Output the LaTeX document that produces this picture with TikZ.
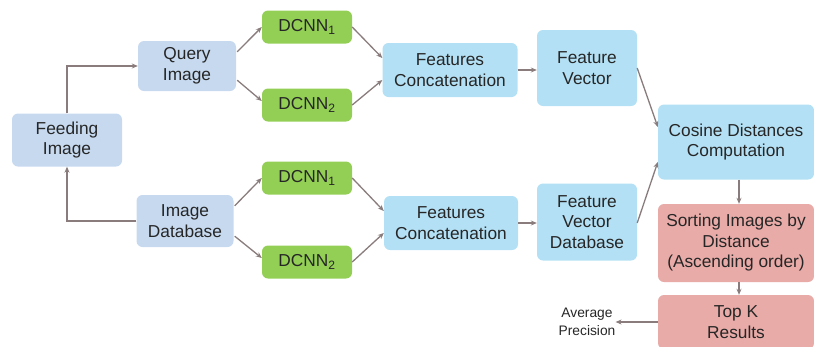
\documentclass[tikz,border=0pt]{standalone}
\usepackage{fontspec}
\setmainfont{Liberation Sans}
\usetikzlibrary{arrows.meta,calc}
\definecolor{lblue}{HTML}{C6D9EF}
\definecolor{fblue}{HTML}{B3E0F4}
\definecolor{lgreen}{HTML}{93CF55}
\definecolor{lpink}{HTML}{E8ABA8}
\definecolor{arr}{HTML}{8A7C7C}
\definecolor{txt}{HTML}{262626}
\begin{document}
\begin{tikzpicture}[x=1pt,y=-1pt,
  box/.style={rounded corners=6pt,align=center,text=txt,inner sep=0pt,
    font=\fontsize{17.3}{20.5}\selectfont},
  qbox/.style={box,fill=lblue},
  gbox/.style={box,fill=lgreen,minimum width=90pt,minimum height=33pt},
  fbox/.style={box,fill=fblue},
  pbox/.style={box,fill=lpink},
  link/.style={draw=arr,line width=1.3pt,-{Stealth[length=6pt,width=5pt]}}]
\useasboundingbox (0,0) rectangle (814,346);
\node[qbox,minimum width=110pt,minimum height=53pt] (feed) at (67,140) {Feeding\\Image};
\node[qbox,minimum width=98pt,minimum height=50pt] (query) at (187,66) {Query\\Image};
\node[qbox,minimum width=97pt,minimum height=52pt] (imgdb) at (185,221) {Image\\Database};
\node[gbox] (d1a) at (307,27) {DCNN\textsubscript{1}};
\node[gbox] (d2a) at (307,105) {DCNN\textsubscript{2}};
\node[gbox] (d1b) at (307,178) {DCNN\textsubscript{1}};
\node[gbox] (d2b) at (307,262) {DCNN\textsubscript{2}};
\node[fbox,minimum width=135pt,minimum height=54pt] (fca) at (450,70) {Features\\Concatenation};
\node[fbox,minimum width=134pt,minimum height=54pt] (fcb) at (451,223) {Features\\Concatenation};
\node[fbox,minimum width=100pt,minimum height=76pt] (fv) at (587,68) {Feature\\Vector};
\node[fbox,minimum width=100pt,minimum height=77pt] (fvd) at (587,222) {Feature\\Vector\\Database};
\node[fbox,minimum width=156pt,minimum height=75pt] (cos) at (736,142) {Cosine Distances\\Computation};
\node[pbox,minimum width=156pt,minimum height=78pt] (sort) at (736,243) {Sorting Images by\\Distance\\(Ascending order)};
\node[pbox,minimum width=156pt,minimum height=54pt] (topk) at (736,322) {Top K\\Results};
\node[align=center,text=txt,inner sep=0pt,font=\fontsize{13.8}{17.5}\selectfont] (ap) at (587,322) {Average\\Precision};
\path[link] (feed.north) |- (query.west);
\path[link] (imgdb.west) -| (feed.south);
\path[link] ($(query.north east)+(1,11)$) -- (d1a.west);
\path[link] ($(query.south east)+(1,-11)$) -- ($(d2a.west)+(0,-4)$);
\path[link] ($(imgdb.north east)+(1,11)$) -- (d1b.west);
\path[link] ($(imgdb.south east)+(1,-11)$) -- ($(d2b.west)+(0,-4)$);
\path[link] (d1a.east) -- ($(fca.west)+(0,-12)$);
\path[link] (d2a.east) -- ($(fca.west)+(0,10)$);
\path[link] (d1b.east) -- ($(fcb.west)+(0,-12)$);
\path[link] (d2b.east) -- ($(fcb.west)+(0,10)$);
\path[link] (fca.east) -- (fv.west |- fca.east);
\path[link] (fcb.east) -- (fvd.west |- fcb.east);
\path[link] ($(fv.east)+(0,0)$) -- ($(cos.west)+(0,-15)$);
\path[link] ($(fvd.east)+(0,1)$) -- ($(cos.west)+(0,20)$);
\path[link] ($(cos.south)+(3,0)$) -- ($(sort.north)+(3,0)$);
\path[link] ($(sort.south)+(3,0)$) -- ($(topk.north)+(3,0)$);
\path[link] (topk.west) -- (ap.east);
\end{tikzpicture}
\end{document}
